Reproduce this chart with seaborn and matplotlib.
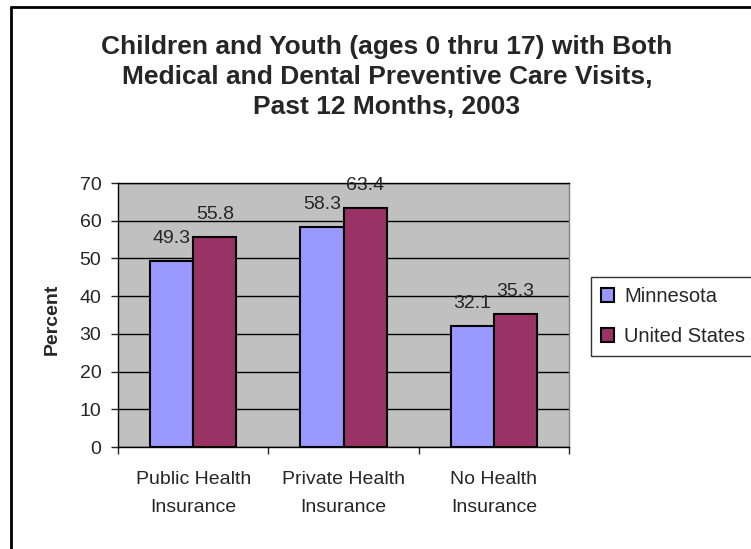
import matplotlib
matplotlib.use("Agg")
import matplotlib.pyplot as plt
import seaborn as sns
import pandas as pd
from matplotlib.lines import Line2D

categories = ["Public Health\nInsurance", "Private Health\nInsurance", "No Health\nInsurance"]
minnesota = [49.3, 58.3, 32.1]
united_states = [55.8, 63.4, 35.3]
series = ["Minnesota", "United States"]
title = "Children and Youth (ages 0 thru 17) with Both\nMedical and Dental Preventive Care Visits,\nPast 12 Months, 2003"

df = pd.DataFrame({
    "Category": categories * 2,
    "Series": [series[0]] * 3 + [series[1]] * 3,
    "Percent": minnesota + united_states,
})

sns.set_style("white")
plt.rcParams['font.family'] = ['Liberation Sans', 'DejaVu Sans']

W, H = 751, 549
fig = plt.figure(figsize=(W / 100, H / 100), dpi=100)
ax = fig.add_axes([118 / W, 1 - 447 / H, (569 - 118) / W, (447 - 183) / H])
ax.set_facecolor("#C0C0C0")

sns.barplot(data=df, x="Category", y="Percent", hue="Series",
            palette=["#9999FF", "#993366"], saturation=1, width=0.575, gap=0,
            edgecolor="black", linewidth=1.5, ax=ax, zorder=3)

for c in ax.containers:
    ax.bar_label(c, fmt="%.1f", padding=10, fontsize=14)

ax.set_ylim(0, 70)
ax.set_yticks(range(0, 71, 10))
ax.set_xlim(-0.5, 2.5)
ax.yaxis.grid(True, color="black", linewidth=1, zorder=0)
ax.set_axisbelow(True)
ax.tick_params(axis="y", labelsize=14, length=5, width=1, direction="out", left=True, pad=7)
ax.tick_params(axis="x", labelsize=14, length=0, pad=17)
ax.set_xticks([-0.5, 0.5, 1.5, 2.5], minor=True)
ax.tick_params(axis="x", which="minor", length=5, width=1, direction="out", bottom=True)
ax.set_xlabel("")
ax.set_ylabel("")
fig.text(52 / W, 1 - 319 / H, "Percent", rotation=90, ha="center", va="center",
         fontsize=14, fontweight="bold")
for lbl in ax.get_xticklabels():
    lbl.set_linespacing(1.9)

for s in ["left", "bottom", "top"]:
    ax.spines[s].set_color("black")
    ax.spines[s].set_linewidth(1)
ax.spines["right"].set_color("#808080")
ax.spines["right"].set_linewidth(1)

leg = ax.legend(loc="upper left", bbox_to_anchor=(591 / W, 1 - 277 / H), bbox_transform=fig.transFigure,
                frameon=True, fontsize=14.5, fancybox=False, edgecolor="black",
                handlelength=0.65, handleheight=0.65, handletextpad=0.5, borderpad=0.5,
                labelspacing=1.05, borderaxespad=0, title=None)
leg.get_frame().set_linewidth(1)

fig.text(387 / W, 1 - 35 / H, title, ha="center", va="top", fontsize=19, fontweight="bold", linespacing=1.32)

fig.add_artist(Line2D([11 / W, 11 / W], [0, 1 - 7 / H], transform=fig.transFigure, color="black", linewidth=2))
fig.add_artist(Line2D([11 / W, 1], [1 - 7 / H, 1 - 7 / H], transform=fig.transFigure, color="black", linewidth=2))

fig.savefig("out.png", dpi=100)
